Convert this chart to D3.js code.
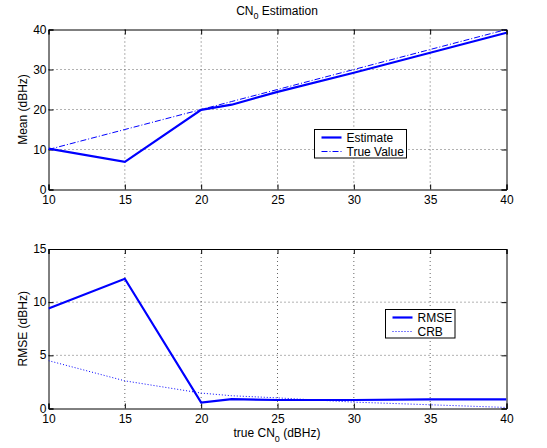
<!DOCTYPE html>
<html><head><meta charset="utf-8">
<script src="https://cdn.jsdelivr.net/npm/d3@7"></script>
<style>body{margin:0;background:#fff}svg{display:block}text{font-family:"Liberation Sans",Arial,sans-serif;}</style>
</head><body>
<script>
const cn0 = [10, 15, 20, 22, 25, 30, 35, 40];
const estimate = [10.2, 6.9, 19.9, 21.2, 24.4, 29.2, 34.2, 39.2];
const trueValue = [10, 15, 20, 22, 25, 30, 35, 40];
const rmse = [9.4, 12.2, 0.56, 0.88, 0.8, 0.8, 0.85, 0.85];
const crb = [4.5, 2.6, 1.45, 1.2, 1.0, 0.6, 0.35, 0.1];
const xTicks = [10, 15, 20, 25, 30, 35, 40];
const yTicksTop = [0, 10, 20, 30, 40];
const yTicksBot = [0, 5, 10, 15];

const W = 547, H = 448;
const svg = d3.select("body").append("svg").attr("width", W).attr("height", H);
const blue = "#0000ff";
const FS = 12;

function panel(top, bottom, yDomain, yTicks, series, legend, legendBox, ylabel) {
  const x = d3.scaleLinear().domain([10, 40]).range([48.5, 506.5]);
  const y = d3.scaleLinear().domain(yDomain).range([bottom, top]);
  const g = svg.append("g");
  // grid
  g.selectAll(".gx").data(xTicks.slice(1, -1)).enter().append("line")
    .attr("x1", d => x(d)).attr("x2", d => x(d)).attr("y1", top).attr("y2", bottom)
    .attr("stroke", "#000").attr("stroke-width", 1).attr("stroke-dasharray", "1,3").attr("opacity", 0.6);
  g.selectAll(".gy").data(yTicks.slice(1, -1)).enter().append("line")
    .attr("y1", d => y(d)).attr("y2", d => y(d)).attr("x1", x(10)).attr("x2", x(40))
    .attr("stroke", "#000").attr("stroke-width", 1).attr("stroke-dasharray", "1,3").attr("opacity", 0.6);
  // axes (ticks inward)
  const axB = d3.axisBottom(x).tickValues(xTicks).tickSize(-5).tickPadding(6).tickFormat(d3.format("d"));
  const axT = d3.axisTop(x).tickValues(xTicks).tickSize(-5).tickFormat("");
  const axL = d3.axisLeft(y).tickValues(yTicks).tickSize(-5).tickPadding(2).tickFormat(d3.format("d"));
  const axR = d3.axisRight(y).tickValues(yTicks).tickSize(-5).tickFormat("");
  const styleAx = s => { s.selectAll("path").attr("stroke", "#000"); s.selectAll("line").attr("stroke", "#000");
    s.selectAll("text").attr("font-size", FS).attr("fill", "#000").attr("font-family", '"Liberation Sans",Arial,sans-serif'); };
  g.append("g").attr("transform", `translate(0,${bottom})`).call(axB).call(styleAx);
  g.append("g").attr("transform", `translate(0,${top})`).call(axT).call(styleAx);
  const gl = g.append("g").attr("transform", `translate(${x(10)},0)`).call(axL).call(styleAx);
  gl.selectAll("text").attr("dy", "0.3em");
  g.append("g").attr("transform", `translate(${x(40)},0)`).call(axR).call(styleAx);
  // series
  const clip = "clip" + Math.round(top);
  svg.append("clipPath").attr("id", clip).append("rect").attr("x", x(10)).attr("y", top - 2).attr("width", x(40) - x(10)).attr("height", bottom - top + 2);
  series.forEach(s => {
    const line = d3.line().x((d, i) => x(cn0[i])).y(d => y(d));
    g.append("path").datum(s.values).attr("d", line).attr("fill", "none")
      .attr("stroke", blue).attr("stroke-width", s.width).attr("stroke-dasharray", s.dash || null)
      .attr("clip-path", `url(#${clip})`);
  });
  // legend
  const lg = g.append("g");
  lg.append("rect").attr("x", legendBox[0]).attr("y", legendBox[1]).attr("width", legendBox[2]).attr("height", legendBox[3])
    .attr("fill", "#fff").attr("stroke", "#000").attr("stroke-width", 1);
  legend.forEach((s, i) => {
    const yy = legendBox[1] + 8 + i * 14;
    lg.append("line").attr("x1", legendBox[0] + 7).attr("x2", legendBox[0] + 27).attr("y1", yy).attr("y2", yy)
      .attr("stroke", blue).attr("stroke-width", s.width).attr("stroke-dasharray", s.dash || null);
    lg.append("text").attr("x", legendBox[0] + 32).attr("y", yy + 4.5).attr("font-size", FS).text(s.name);
  });
  // y label
  g.append("text").attr("transform", `translate(26.5,${(top + bottom) / 2}) rotate(-90)`)
    .attr("text-anchor", "middle").attr("font-size", FS).text(ylabel);
}

const s1 = [{name: "Estimate", values: estimate, width: 2.2}, {name: "True Value", values: trueValue, width: 1, dash: "6,2,1,2"}];
panel(29.5, 189.5, [0, 40], yTicksTop, s1, s1, [314.5, 129.5, 92, 28.5], "Mean (dBHz)");
const s2 = [{name: "RMSE", values: rmse, width: 2.2}, {name: "CRB", values: crb, width: 1, dash: "1,2"}];
panel(249, 408.5, [0, 15], yTicksBot, s2, s2, [385.5, 309.5, 69.5, 28.5], "RMSE (dBHz)");

// title
const t = svg.append("text").attr("x", 277).attr("y", 14.5).attr("text-anchor", "middle").attr("font-size", FS);
t.append("tspan").text("CN");
t.append("tspan").attr("dy", 4.5).attr("font-size", 9).text("0");
t.append("tspan").attr("dy", -4.5).text(" Estimation");
// x label
const xl = svg.append("text").attr("x", 277).attr("y", 437).attr("text-anchor", "middle").attr("font-size", FS);
xl.append("tspan").text("true CN");
xl.append("tspan").attr("dy", 4.5).attr("font-size", 9).text("0");
xl.append("tspan").attr("dy", -4.5).text(" (dBHz)");
</script>
</body></html>
